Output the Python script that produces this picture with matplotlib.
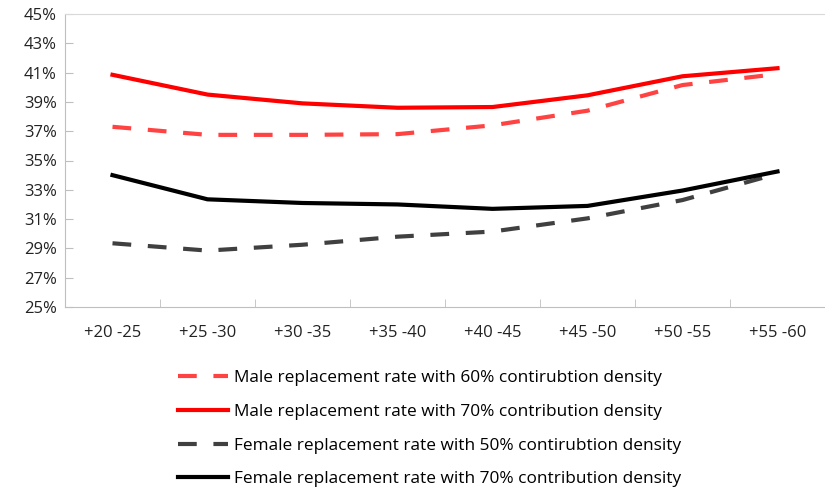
import matplotlib
matplotlib.use('Agg')
from matplotlib import pyplot as plt

plt.rcParams['font.family'] = ['Open Sans', 'DejaVu Sans']

categories = ['+20 -25', '+25 -30', '+30 -35', '+35 -40', '+40 -45', '+45 -50', '+50 -55', '+55 -60']
male_60 = [37.3, 36.75, 36.75, 36.8, 37.4, 38.4, 40.15, 40.9]
male_70 = [40.85, 39.5, 38.9, 38.6, 38.65, 39.45, 40.75, 41.3]
female_50 = [29.35, 28.85, 29.25, 29.8, 30.15, 31.05, 32.3, 34.1]
female_70 = [34.0, 32.35, 32.1, 32.0, 31.7, 31.9, 32.95, 34.25]
labels = ['Male replacement rate with 60% contirubtion density',
          'Male replacement rate with 70% contribution density',
          'Female replacement rate with 50% contirubtion density',
          'Female replacement rate with 70% contribution density']

fig = plt.figure(figsize=(8.25, 4.97), dpi=100)
ax = fig.add_axes([65/825, 1-307/497, 1-65/825, 293/497])

x = range(len(categories))
lw = 3.0
ax.plot(x, male_60, color='#FF4343', lw=lw, dashes=(4.5, 4), label=labels[0])
ax.plot(x, male_70, color='#FF0000', lw=lw, label=labels[1])
ax.plot(x, female_50, color='#404040', lw=lw, dashes=(4.5, 4), label=labels[2])
ax.plot(x, female_70, color='#000000', lw=lw, label=labels[3])

ax.set_xlim(-0.5, len(categories) - 0.5)
ax.set_ylim(25, 45)
ax.set_yticks(range(25, 46, 2))
ax.set_yticklabels([f'{v}%' for v in range(25, 46, 2)])
ax.set_xticks(list(x))
ax.set_xticklabels(categories)
ax.set_xticks([i + 0.5 for i in range(len(categories) - 1)], minor=True)
ax.tick_params(axis='x', which='major', length=0, pad=13)
ax.tick_params(axis='x', which='minor', length=6, direction='in', color='#BFBFBF')
ax.tick_params(axis='y', length=6, direction='in', color='#BFBFBF', pad=6)
ax.tick_params(labelsize=12, labelcolor='#222222')

for s in ['left', 'bottom']:
    ax.spines[s].set_color('#BFBFBF')
ax.spines['top'].set_color('#D9D9D9')
ax.spines['right'].set_visible(False)

fig.legend(loc='upper left', bbox_to_anchor=(171/825, 1-363/497), frameon=False,
           fontsize=12.4, handlelength=2.9, handletextpad=0.35, labelspacing=1.03,
           borderaxespad=0)

fig.savefig('out.png', dpi=100)
